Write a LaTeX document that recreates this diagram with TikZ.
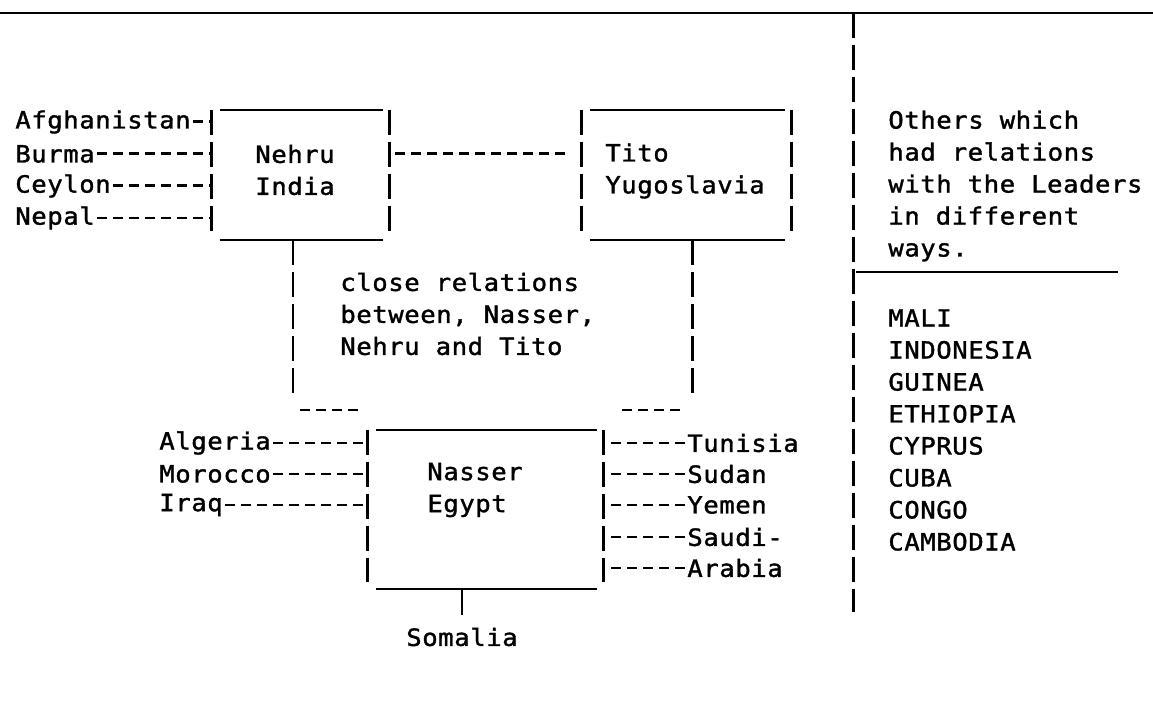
\documentclass[tikz,border=0pt]{standalone}
\usepackage{fontspec}
\newfontfamily\typefont{DejaVu Sans Mono}[FakeStretch=1.08,LetterSpace=2.4,FakeBold=1.5]
\tikzset{
    typed/.style={font=\typefont\fontsize{13.5}{18.2}\selectfont, inner sep=0pt, align=left},
    frame/.style={inner sep=0pt},
    rule/.style={line width=1.2pt},
    bars/.style={line width=1.7pt, dash pattern=on 0.5cm off 0.14cm},
    dashes/.style={line width=1.7pt, dash pattern=on 0.2cm off 0.12cm},
}
\begin{document}
\begin{tikzpicture}[x=0.02cm, y=-0.02cm]
        \useasboundingbox (0,0) rectangle (1153,715);
        % boxes of the three leaders
        \node[frame, minimum width=3.54cm, minimum height=2.6cm] at (300.5,175) (nehru){};
        \node[frame, minimum width=4.18cm, minimum height=2.6cm] at (686.5,175) (tito){};
        \node[frame, minimum width=4.7cm, minimum height=3.18cm] at (485.5,509.5) (nasser){};
        \foreach \b in {nehru,tito,nasser}{
            \draw[rule] ([xshift=0.16cm]\b.north west) -- ([xshift=-0.12cm]\b.north east);
            \draw[rule] ([xshift=0.16cm]\b.south west) -- ([xshift=-0.12cm]\b.south east);
            \draw[bars] (\b.north west) -- ([yshift=0.14cm]\b.south west);
            \draw[bars] (\b.north east) -- ([yshift=0.14cm]\b.south east);
        }
        \node[typed, anchor=west] at (255,170) (nehrutxt){Nehru\\India};
        \node[typed, anchor=west] at (605,171) (titotxt){Tito\\Yugoslavia};
        \node[typed, anchor=west] at (427,490) (nassertxt){Nasser\\Egypt};
        % Nehru and his neighbours
        \node[typed, anchor=west] at (15,122) (afghanistan){Afghanistan};
        \node[typed, anchor=west] at (15,154) (burma){Burma};
        \node[typed, anchor=west] at (15,186) (ceylon){Ceylon};
        \node[typed, anchor=west] at (15,218) (nepal){Nepal};
        \foreach \c in {afghanistan,burma,ceylon,nepal}
            \draw[dashes] ([xshift=0.04cm]\c.east) -- (nehru.west |- \c.east);
        \draw[dashes] ([xshift=0.12cm]nehru.east |- burma.east) -- ([xshift=-0.24cm]tito.west |- burma.east);
        % Nasser and his neighbours
        \node[typed, anchor=west] at (159,443) (algeria){Algeria};
        \node[typed, anchor=west] at (159,474) (morocco){Morocco};
        \node[typed, anchor=west] at (159,505) (iraq){Iraq};
        \foreach \c in {algeria,morocco,iraq}
            \draw[dashes] ([xshift=0.04cm]\c.east) -- (nasser.west |- \c.east);
        \node[typed, anchor=west] at (687,443) (tunisia){Tunisia};
        \node[typed, anchor=west] at (687,474) (sudan){Sudan};
        \node[typed, anchor=west] at (687,505) (yemen){Yemen};
        \node[typed, anchor=west] at (687,537) (saudi){Saudi-};
        \node[typed, anchor=west] at (687,568) (arabia){Arabia};
        \foreach \c in {tunisia,sudan,yemen,saudi,arabia}
            \draw[dashes] ([xshift=0.16cm]nasser.east |- \c.west) -- (\c.west);
        \node[typed] at (462,637) (somalia){Somalia};
        \draw[rule, line width=1.7pt] (somalia.north |- nasser.south) -- ++(0,26);
        % the three leaders together
        \coordinate (lstem) at (293,393);
        \coordinate (rstem) at (692,393);
        \draw[bars] (lstem |- nehru.south) -- (lstem);
        \draw[bars] (rstem |- tito.south) -- (rstem);
        \coordinate (lrun) at (300,410);
        \coordinate (rrun) at (622,410);
        \draw[dashes] (lrun) -- ++(58,0);
        \draw[dashes] (rrun) -- ++(58,0);
        \node[typed, anchor=west] at (340,314) (close){close relations\\between, Nasser,\\Nehru and Tito};
        % the others
        \draw[rule] (0,13) -- (1153,13);
        \draw[bars] (853,13) -- (853,612);
        \draw[rule] (856,272) -- (1118,272);
        \node[typed, anchor=west] at (888,186) (others){Others which\\had relations\\with the Leaders\\in different\\ways.};
        \node[typed, anchor=west] at (888,430) (members){MALI\\INDONESIA\\GUINEA\\ETHIOPIA\\CYPRUS\\CUBA\\CONGO\\CAMBODIA};
\end{tikzpicture}
\end{document}
